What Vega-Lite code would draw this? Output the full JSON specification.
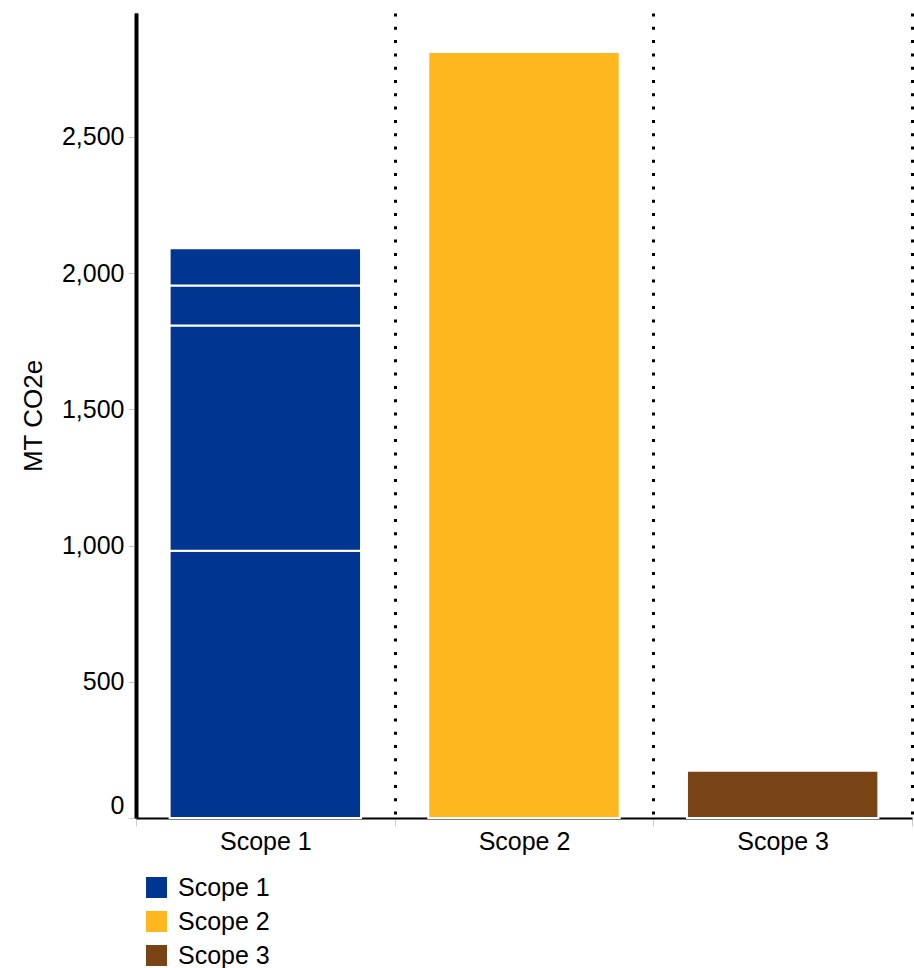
{
  "$schema": "https://vega.github.io/schema/vega-lite/v6.json",
  "width": 776,
  "height": 805,
  "autosize": {"type": "none"},
  "padding": {"left": 136, "top": 13, "right": 2, "bottom": 150},
  "background": "white",
  "config": {
    "view": {"stroke": null},
    "font": "Liberation Sans"
  },
  "data": {
    "values": [
      {"scope": "Scope 1", "part": 1, "value": 981},
      {"scope": "Scope 1", "part": 2, "value": 827},
      {"scope": "Scope 1", "part": 3, "value": 147},
      {"scope": "Scope 1", "part": 4, "value": 136},
      {"scope": "Scope 2", "part": 1, "value": 2812},
      {"scope": "Scope 3", "part": 1, "value": 173}
    ]
  },
  "mark": {"type": "bar", "stroke": "white", "strokeWidth": 2, "width": {"band": 0.74}},
  "encoding": {
    "x": {
      "field": "scope",
      "type": "nominal",
      "sort": ["Scope 1", "Scope 2", "Scope 3"],
      "scale": {"paddingInner": 0, "paddingOuter": 0},
      "axis": {
        "title": null,
        "labelAngle": 0,
        "labelFontSize": 25,
        "labelColor": "black",
        "labelPadding": 3,
        "domainColor": "black",
        "domainWidth": 2,
        "tickColor": "#cccccc",
        "tickSize": 8,
        "tickBand": "extent",
        "grid": true,
        "gridColor": "black",
        "gridWidth": 3,
        "gridDash": [3, 10.3],
        "gridOpacity": 1
      }
    },
    "y": {
      "field": "value",
      "type": "quantitative",
      "aggregate": "sum",
      "stack": "zero",
      "scale": {"domain": [0, 2955], "nice": false},
      "axis": {
        "title": "MT CO2e",
        "titleFontSize": 26,
        "titleFontWeight": "normal",
        "titleColor": "black",
        "titlePadding": 15,
        "values": [0, 500, 1000, 1500, 2000, 2500],
        "format": ",.0f",
        "labelFontSize": 25,
        "labelColor": "black",
        "labelPadding": 4,
        "labelOffset": {"condition": {"test": "datum.value === 0", "value": -13}, "value": 0},
        "grid": false,
        "domainColor": "black",
        "domainWidth": 4,
        "tickColor": "#cccccc",
        "tickSize": 8
      }
    },
    "detail": {"field": "part", "type": "ordinal"},
    "order": {"field": "part", "type": "ordinal"},
    "color": {
      "field": "scope",
      "type": "nominal",
      "scale": {
        "domain": ["Scope 1", "Scope 2", "Scope 3"],
        "range": ["#003591", "#FEB71E", "#784315"]
      },
      "legend": {
        "title": null,
        "orient": "none",
        "legendX": 8,
        "legendY": 862,
        "direction": "vertical",
        "symbolType": "square",
        "symbolSize": 440,
        "symbolStrokeWidth": 0,
        "labelFontSize": 25,
        "labelColor": "black",
        "labelOffset": 9,
        "rowPadding": 8
      }
    }
  }
}
